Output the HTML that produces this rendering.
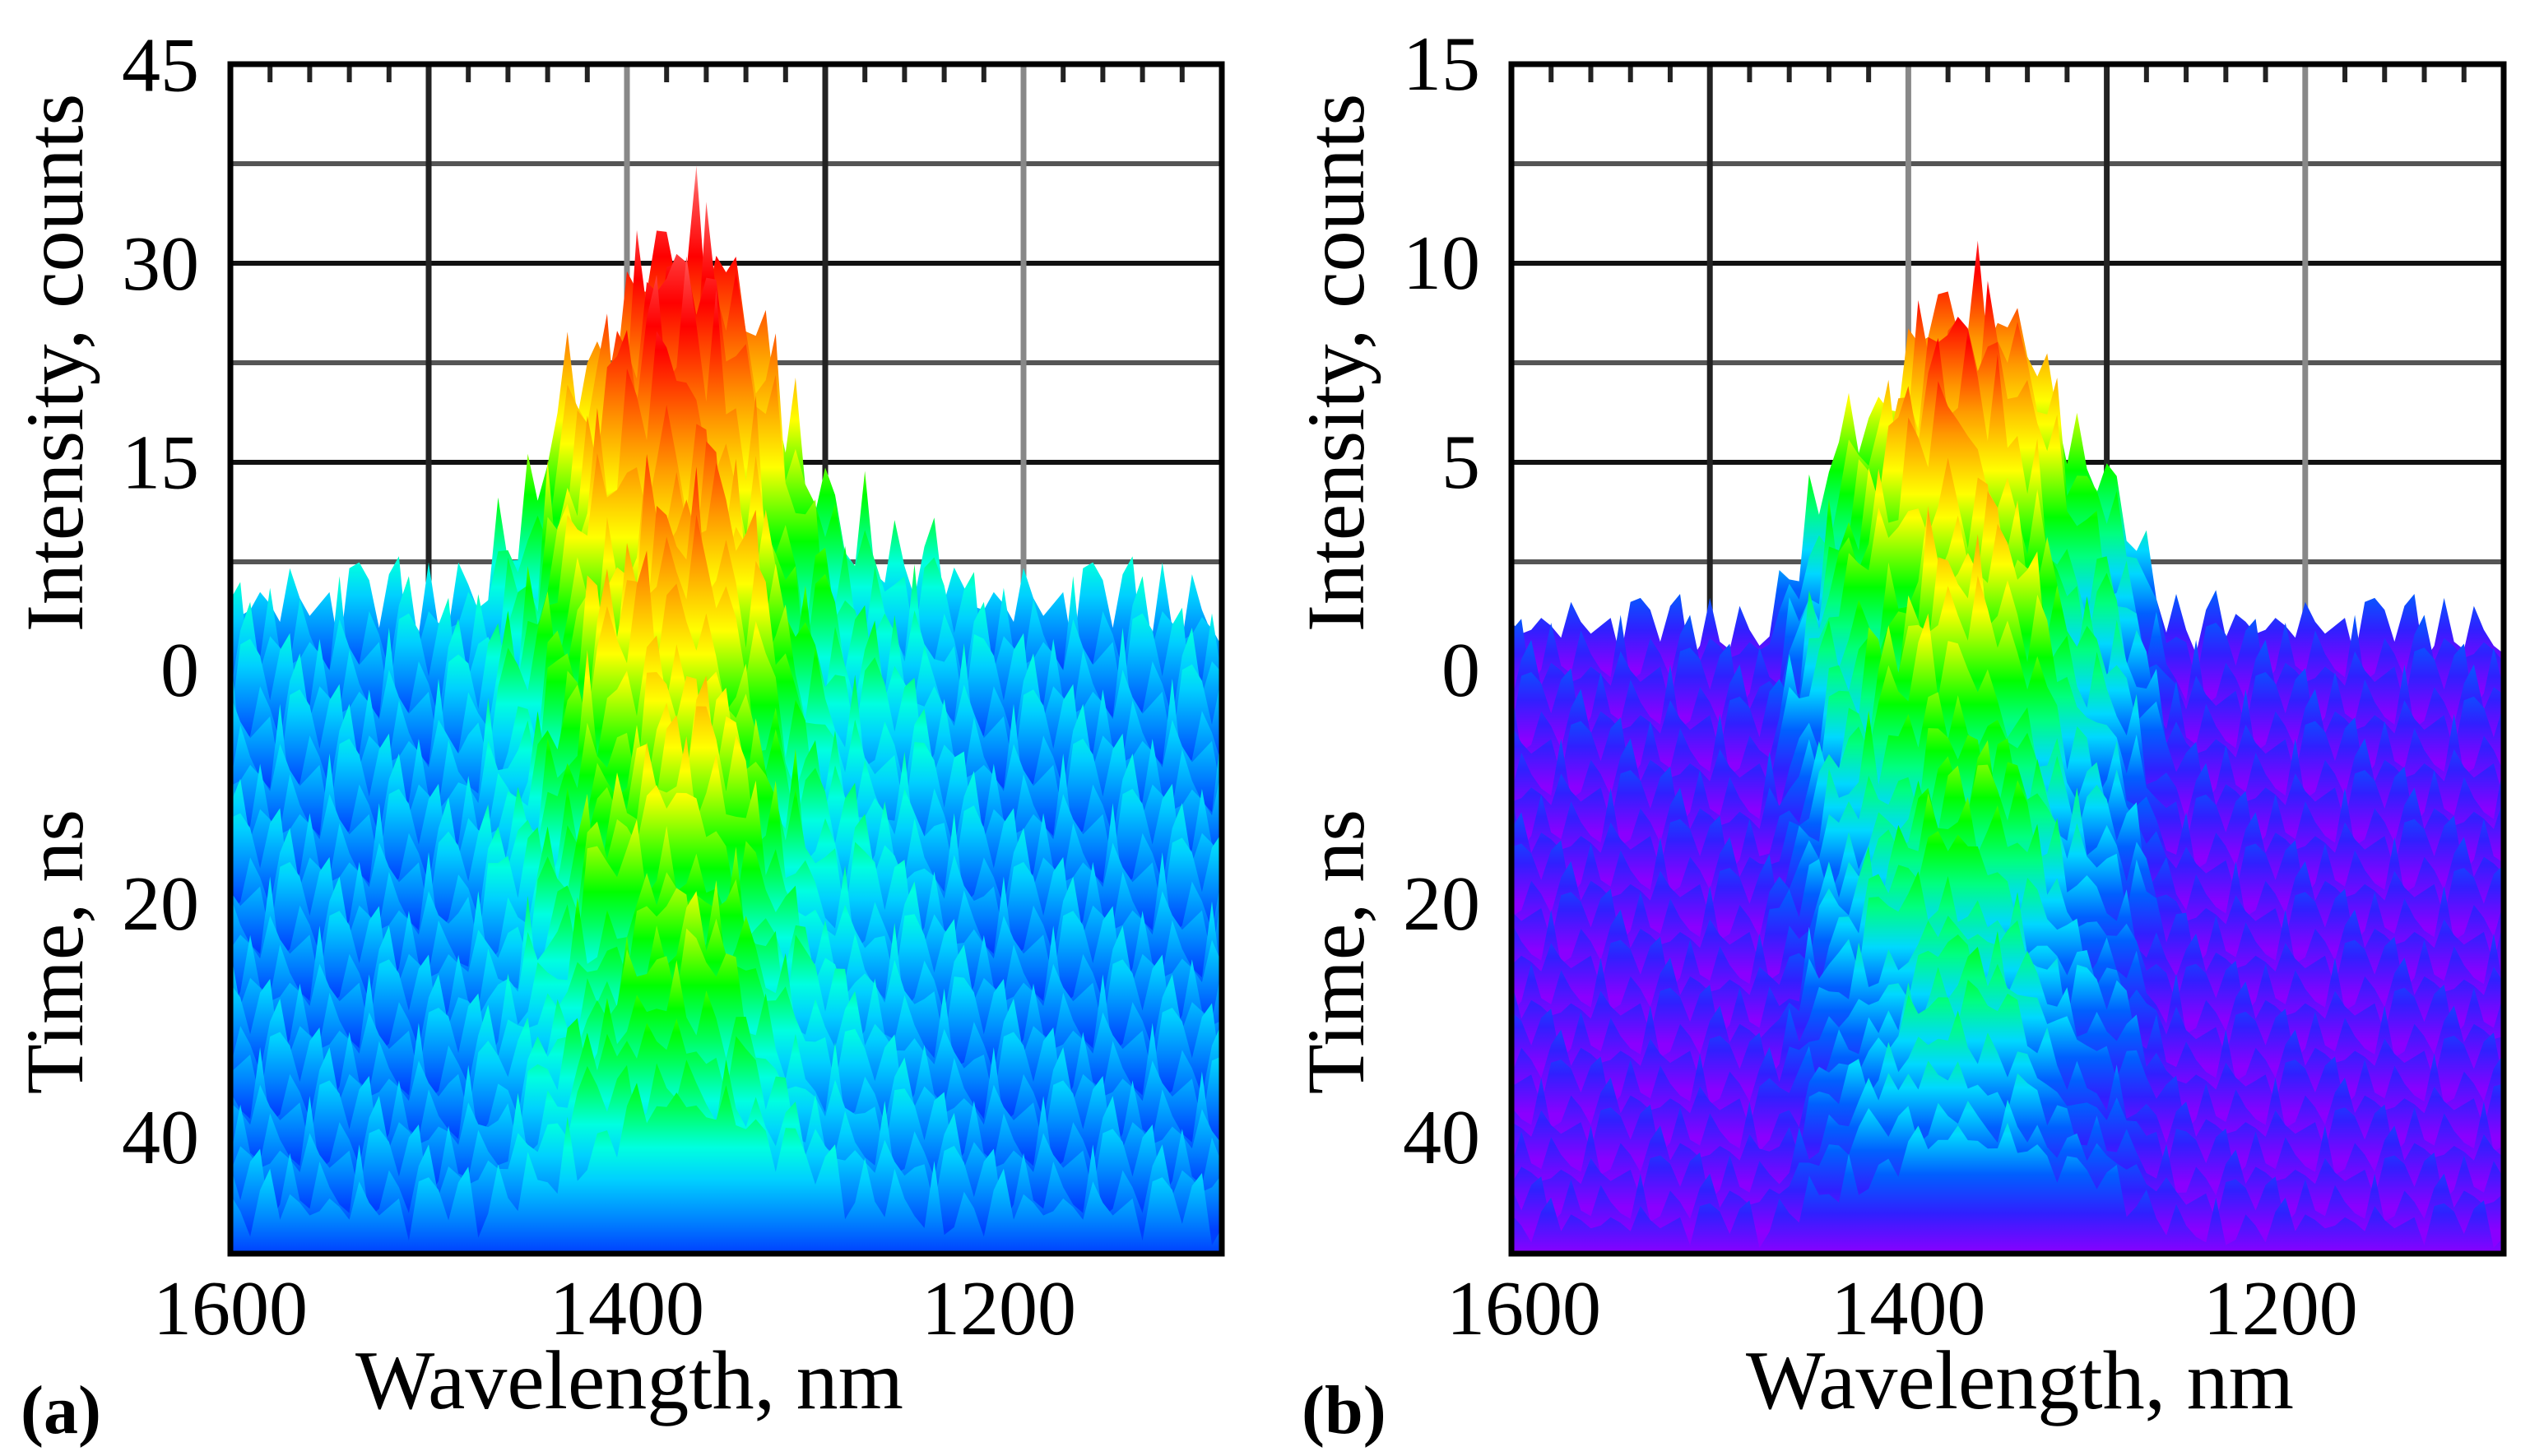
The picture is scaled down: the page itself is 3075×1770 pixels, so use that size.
<!DOCTYPE html>
<html><head><meta charset="utf-8">
<style>
html,body{margin:0;padding:0;background:#fff;}
svg{display:block;}
text{font-family:"Liberation Serif",serif;fill:#000;}
</style></head>
<body>
<svg id="fig" width="3075" height="1770" viewBox="0 0 3075 1770" xmlns="http://www.w3.org/2000/svg">
<defs id="defs"></defs>
<g id="panelA"></g>
<g id="panelB"></g>
</svg>
<script>
// ---- data ----
const envWavelengths = [1600,1590,1580,1570,1560,1550,1540,1530,1520,1510,1500,1490,1480,1470,1460,1450,1440,1430,1420,1410,1400,1390,1380,1370,1360,1350,1340,1330,1320,1310,1300,1290,1280,1270,1260,1250,1240,1230,1220,1210,1200,1190,1180,1170,1160,1150,1140,1130,1120,1110,1100];
const envelopeA = [0,0,0,0,0,0,0,0,0,0,0,1,2,4,7,10,15,20,24,27,30,33,35,34,32,29,25,20,15,11,9,7,6,5,4,3,2,1,0,0,0,0,0,0,0,0,0,0,0,0,0];
const envelopeB = [0,0,0,0,0,0,0,0,0,0,0,0,0,0.5,2,3.5,5,6,7,8,9,10,10.5,10,9.5,9,8,6.5,5,4.5,4,3,1.5,0.5,0,0,0,0,0,0,0,0,0,0,0,0,0,0,0,0,0];
const times = [0,2,4,6,8,10,12,14,16,18,20,22,24,26,28,30,32,34,36,38,40,42,44,46,48,50];
const rowAmpA = [1.0,0.95,0.9,0.85,0.8,0.76,0.72,0.7,0.66,0.62,0.6,0.57,0.55,0.53,0.5,0.48,0.46,0.44,0.42,0.4,0.38,0.36,0.34,0.32,0.3,0.28];
const rowAmpB = [1.0,0.95,0.9,0.86,0.82,0.78,0.74,0.7,0.66,0.62,0.58,0.55,0.52,0.5,0.48,0.46,0.44,0.42,0.4,0.38,0.36,0.34,0.32,0.3,0.28,0.26];
const noise = [0.6,0.3,0.9,0.45,0.2,0.75,0.5,1.0,0.35,0.65,0.15,0.8,0.55,0.25,0.95,0.4,0.7,0.1,0.85,0.5,0.3,0.6,0.2,0.9,0.45,0.75,0.35,0.55,1.0,0.25,0.65,0.4,0.8,0.15,0.7,0.5,0.85];
const floorA = 9, floorB = 2.0;
const yTicksA = ["45","30","15"], yTickValsA = [45,30,15];
const yTicksB = ["15","10","5"], yTickValsB = [15,10,5];
const xTicks = [1600,1400,1200];
const timeTicks = [0,20,40];

const NS = "http://www.w3.org/2000/svg";
function mk(tag, attrs, parent){const e=document.createElementNS(NS,tag);for(const k in attrs)e.setAttribute(k,attrs[k]);if(parent)parent.appendChild(e);return e;}

function drawPanel(g, cfg){
  const L=cfg.left, R=cfg.right, T=78, B=1524;
  const xS = w => L + (1600 - w) * (R - L) / 500;
  const yI = c => 803 - c * cfg.pxPerCount;
  const yT = t => 814 + t * 14.2;
  const grid = mk('g',{},g);
   
  for(let k=0;k<6;k++){
    const y = T + k*121;
    mk('line',{x1:L,x2:R,y1:y,y2:y,stroke:k%2?'#555':'#111','stroke-width':6},grid);
  }
  for(let w=1600; w>=1100; w-=100){
    const x = xS(w);
    mk('line',{x1:x,x2:x,y1:T,y2:B,stroke:(w/100)%2?'#222':'#888','stroke-width':7},grid);
  }
  for(let w=1580; w>1100; w-=20){
    if(w%100===0) continue;
    const x = xS(w);
    mk('line',{x1:x,x2:x,y1:T,y2:T+22,stroke:'#222','stroke-width':6},grid);
  }
  const defs = document.getElementById('defs');
  const clipId = cfg.id+'clip';
  const cp = mk('clipPath',{id:clipId},defs);
  mk('rect',{x:L,y:T,width:R-L,height:B-T},cp);
  const surf = mk('g',{'clip-path':'url(#'+clipId+')'},g);
   
  for(let j=0;j<times.length;j++){
    const base = yT(times[j]);
    const gid = cfg.id+'grad'+j;
    const gr = mk('linearGradient',{id:gid,gradientUnits:'userSpaceOnUse',x1:0,x2:0,y1:base,y2:base - cfg.cmax*cfg.pxPerCount},defs);
    cfg.stops.forEach(s=>mk('stop',{offset:s[0],'stop-color':s[1]},gr));
    let pts = [[L-5,B+5],[L-5,base]];
    for(let i=0;i<=100;i++){
      const w = 1600 - i*5;
      const e = cfg.env[Math.floor(i/2)];
      const n1 = noise[(i*3 + j*11) % noise.length];
      const n2 = noise[(i*7 + j*5 + 3) % noise.length];
      const h = e*cfg.rowAmp[j]*(0.65+0.35*n2) + cfg.floor*n1*(0.6+0.4*cfg.rowAmp[j]);
      pts.push([xS(w), base - h*cfg.pxPerCount]);
    }
    pts.push([R+5,base],[R+5,B+5]);
    const p = mk('polygon',{points:pts.map(q=>q[0].toFixed(1)+','+q[1].toFixed(1)).join(' '),fill:'url(#'+gid+')'},surf);
    
    
  }
  const fr = mk('rect',{x:L,y:T,width:R-L,height:B-T,fill:'none',stroke:'#000','stroke-width':7},g);
   
  cfg.yTickVals.forEach((v,k)=>{
    const t = mk('text',{x:L-38,y:yI(v)+32,'font-size':94,'text-anchor':'end'},g);
    t.textContent = cfg.yTicks[k];
     
  });
  timeTicks.forEach(v=>{
    const t = mk('text',{x:L-38,y:yT(v)+32,'font-size':94,'text-anchor':'end'},g);
    t.textContent = v;
     
  });
  xTicks.forEach(v=>{
    const t = mk('text',{x:xS(v)+(v===1600?cfg.x1600:0)-(v===1200?30:0),y:1622,'font-size':94,'text-anchor':'middle'},g);
    t.textContent = v;
     
  });
  const xt = mk('text',{x:cfg.titleX,y:1712,'font-size':102,'text-anchor':'middle'},g);
  xt.textContent='Wavelength, nm';
   
  const yt1 = mk('text',{x:0,y:0,'font-size':100,'text-anchor':'middle',transform:'translate('+(L-180)+',441) rotate(-90)'},g);
  yt1.textContent='Intensity, counts';
   
  const yt2 = mk('text',{x:0,y:0,'font-size':100,'text-anchor':'middle',transform:'translate('+(L-180)+',1157) rotate(-90)'},g);
  yt2.textContent='Time, ns';
   
  const lb = mk('text',{x:L-255,y:1742,'font-size':84,'font-weight':'bold'},g);
  lb.textContent=cfg.label;
   
}

drawPanel(document.getElementById('panelA'),{
  id:'a',left:280,right:1485,pxPerCount:16.1,env:envelopeA,rowAmp:rowAmpA,floor:floorA,cmax:40,
  yTicks:yTicksA,yTickVals:yTickValsA,label:'(a)',x1600:0,titleX:765,
  stops:[[0,'#0040ff'],[0.06,'#0080ff'],[0.14,'#00d0ff'],[0.2,'#00ffe0'],[0.27,'#00ff60'],[0.33,'#00ff00'],[0.47,'#ffff00'],[0.6,'#ff9900'],[0.78,'#ff0000'],[0.9,'#ff5050'],[1,'#ffe0e0']]
});
drawPanel(document.getElementById('panelB'),{
  id:'b',left:1837,right:3043,pxPerCount:48.4,env:envelopeB,rowAmp:rowAmpB,floor:floorB,cmax:12.5,
  yTicks:yTicksB,yTickVals:yTickValsB,label:'(b)',x1600:15,titleX:2455,
  stops:[[0,'#8a00ff'],[0.08,'#3020ff'],[0.16,'#0060ff'],[0.24,'#00d8ff'],[0.32,'#00ff80'],[0.4,'#00ff00'],[0.54,'#ffff00'],[0.66,'#ff9900'],[0.8,'#ff0000'],[0.92,'#ff5050'],[1,'#ffe0e0']]
});
</script>
</body></html>
